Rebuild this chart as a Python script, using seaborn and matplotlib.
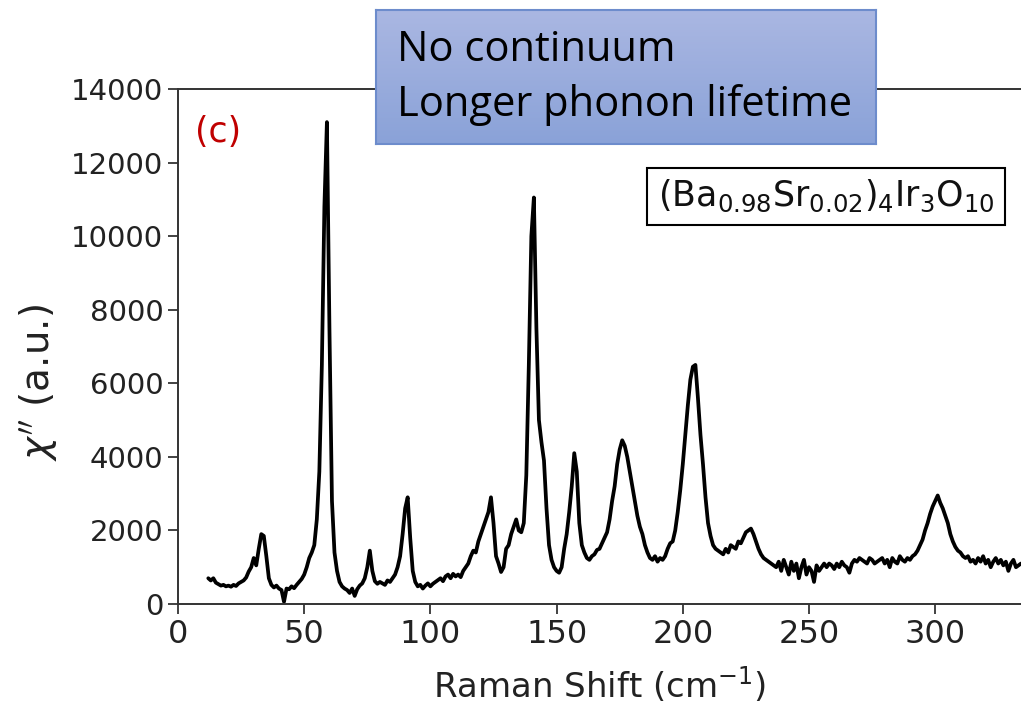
import numpy as np
import pandas as pd
import matplotlib
matplotlib.use("Agg")
import matplotlib.pyplot as plt
import seaborn as sns
from matplotlib.colors import LinearSegmentedColormap

# ---- data, Raman shift starts at 12 cm^-1, step 1 ----
x_start = 12
intensity = [
    700, 640, 700, 580, 540, 500, 520, 480, 500, 470,          # 12-21
    520, 490, 560, 600, 640, 720, 880, 1000, 1250, 1050,       # 22-31
    1500, 1900, 1850, 1300, 700, 520, 450, 500, 420, 380,      # 32-41
    60, 420, 400, 480, 430, 520, 600, 680, 800, 1000,          # 42-51
    1250, 1400, 1600, 2300, 3600, 6500, 10800, 13100, 7500, 2800,  # 52-61
    1400, 900, 600, 480, 420, 380, 300, 420, 220, 400,         # 62-71
    500, 560, 700, 1000, 1450, 900, 620, 550, 600, 560,        # 72-81
    520, 640, 600, 700, 800, 1000, 1300, 1900, 2600, 2900,     # 82-91
    1800, 900, 600, 480, 520, 420, 500, 560, 480, 550,         # 92-101
    600, 650, 700, 620, 750, 800, 700, 820, 750, 800,          # 102-111
    730, 900, 1000, 1100, 1300, 1450, 1400, 1700, 1900, 2100,  # 112-121
    2300, 2500, 2900, 2200, 1300, 1100, 870, 1000, 1500, 1600, # 122-131
    1900, 2100, 2300, 2000, 1950, 2200, 3500, 6500, 10000, 11050,  # 132-141
    7500, 5000, 4400, 3900, 2600, 1600, 1200, 1000, 900, 850,  # 142-151
    1000, 1500, 1900, 2500, 3200, 4100, 3600, 2200, 1600, 1400,  # 152-161
    1250, 1200, 1300, 1350, 1470, 1500, 1650, 1800, 1950, 2300,  # 162-171
    2800, 3200, 3800, 4200, 4450, 4300, 4000, 3600, 3200, 2800,  # 172-181
    2400, 2100, 1900, 1600, 1400, 1250, 1200, 1300, 1150, 1250,  # 182-191
    1200, 1300, 1500, 1650, 1700, 2000, 2500, 3100, 3800, 4600,  # 192-201
    5400, 6100, 6450, 6500, 5600, 4600, 3800, 2900, 2200, 1850,  # 202-211
    1600, 1500, 1450, 1400, 1350, 1500, 1400, 1600, 1550, 1500,  # 212-221
    1700, 1650, 1800, 1950, 2000, 2050, 1900, 1700, 1500, 1350,  # 222-231
    1250, 1200, 1150, 1100, 1050, 1000, 1150, 900, 1200, 1000,   # 232-241
    800, 1150, 900, 1100, 700, 1000, 1200, 800, 1000, 900,       # 242-251
    600, 1050, 900, 1000, 1100, 1000, 1100, 1050, 950, 1100,     # 252-261
    1000, 1150, 1050, 1000, 850, 1100, 1200, 1150, 1250, 1200,   # 262-271
    1150, 1100, 1250, 1200, 1100, 1150, 1200, 1250, 1100, 1200,  # 272-281
    1000, 1250, 1150, 1100, 1300, 1200, 1150, 1250, 1200, 1300,  # 282-291
    1350, 1450, 1600, 1750, 2000, 2200, 2450, 2650, 2800, 2950,  # 292-301
    2750, 2600, 2400, 2200, 1900, 1700, 1550, 1450, 1400, 1300,  # 302-311
    1250, 1300, 1150, 1200, 1100, 1250, 1150, 1300, 1100, 1200,  # 312-321
    1000, 1150, 1250, 1100, 1200, 1050, 1150, 900, 1100, 1200,   # 322-331
    1000, 1050, 1100,                                            # 332-334
]
raman_shift = np.arange(x_start, x_start + len(intensity))

x_ticks = [0, 50, 100, 150, 200, 250, 300]
y_ticks = [0, 2000, 4000, 6000, 8000, 10000, 12000, 14000]
panel_label = "(c)"
formula = r"(Ba$_{0.98}$Sr$_{0.02}$)$_4$Ir$_3$O$_{10}$"
note_lines = ["No continuum", "Longer phonon lifetime"]

df = pd.DataFrame({"shift": raman_shift, "chi": intensity})

sns.set_style("ticks")
plt.rcParams["font.family"] = ["DejaVu Sans"]

W, H = 1021, 703
fig = plt.figure(figsize=(W / 100, H / 100), dpi=100)
ax = fig.add_axes([178 / W, 1 - 604 / H, (W - 178) / W, (604 - 89) / H])

sns.lineplot(data=df, x="shift", y="chi", ax=ax, color="black", linewidth=2.7)

ax.set_xlim(0, 334)
ax.set_ylim(0, 14000)
ax.set_xticks(x_ticks)
ax.set_yticks(y_ticks)
ax.tick_params(axis="both", length=7, width=1.2, colors="#222222")
ax.tick_params(axis="y", labelsize=21)
ax.tick_params(axis="x", labelsize=23)
for s in ["left", "bottom", "top"]:
    ax.spines[s].set_linewidth(1.4)
    ax.spines[s].set_color("#333333")
ax.spines["right"].set_visible(False)

ax.set_xlabel(r"Raman Shift (cm$^{-1}$)", fontsize=24.5, color="#222222")
ax.xaxis.set_label_coords(0.5, -0.118)
ax.set_ylabel(r"$\chi''$ (a.u.)", fontsize=28, color="#222222")
ax.yaxis.set_label_coords(-0.14, 0.43)

ax.text(0.02, 0.95, panel_label, transform=ax.transAxes, fontsize=25,
        color="#c00000", va="top", ha="left")

ax.text(0.769, 0.792, formula, transform=ax.transAxes, fontsize=25,
        ha="center", va="center", color="#111111",
        bbox=dict(boxstyle="square,pad=0.3", facecolor="white",
                  edgecolor="black", linewidth=1.5))

# blue annotation box (gradient), partly outside the axes
bx = fig.add_axes([376 / W, 1 - 144 / H, 500 / W, 134 / H])
grad = np.linspace(0, 1, 100).reshape(-1, 1)
cmap = LinearSegmentedColormap.from_list("g", ["#aab7e2", "#8aa2d8"])
bx.imshow(grad, aspect="auto", cmap=cmap, extent=[0, 1, 0, 1], origin="upper")
bx.set_xticks([])
bx.set_yticks([])
for s in bx.spines.values():
    s.set_color("#6d8ccc")
    s.set_linewidth(1.5)
bx.text(0.042, 0.70, note_lines[0], transform=bx.transAxes, fontsize=30,
        family=["Open Sans", "DejaVu Sans"], va="center", ha="left", color="black")
bx.text(0.042, 0.29, note_lines[1], transform=bx.transAxes, fontsize=30,
        family=["Open Sans", "DejaVu Sans"], va="center", ha="left", color="black")

fig.savefig("out.png", dpi=100)
